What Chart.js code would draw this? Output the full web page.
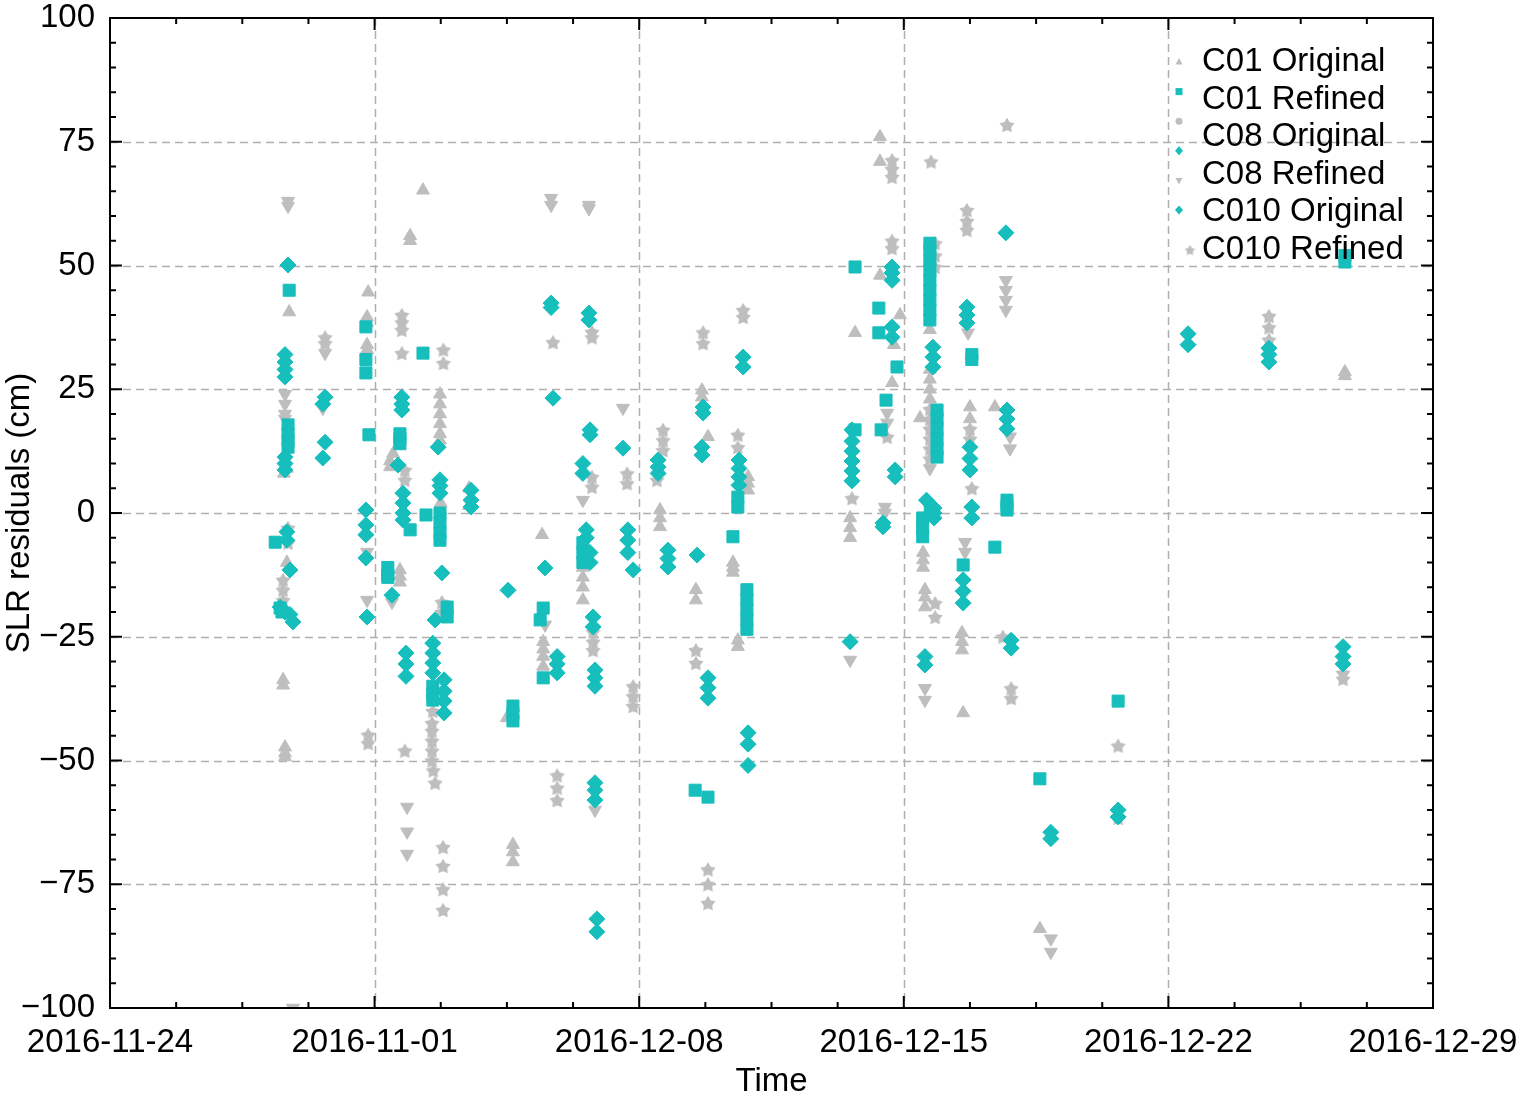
<!DOCTYPE html>
<html>
<head>
<meta charset="utf-8">
<title>SLR residuals</title>
<script src="https://cdn.jsdelivr.net/npm/chart.js@4.4.1/dist/chart.umd.min.js"></script>
<style>
  html, body { margin: 0; padding: 0; background: #fff; }
  #wrap { width: 1519px; height: 1103px; }
</style>
</head>
<body>
<div id="wrap"><canvas id="chart" width="1519" height="1103"></canvas></div>
<script>
// x = days counted from the first tick, y = residual in cm
const xTickLabels = ['2016-11-24', '2016-11-01', '2016-12-08', '2016-12-15', '2016-12-22', '2016-12-29'];
const legendLabels = ['C01 Original', 'C01 Refined', 'C08 Original', 'C08 Refined', 'C010 Original', 'C010 Refined'];

const c01Original = [
  [4.74, 40.6], [4.68, 9], [4.60, 8], [4.68, -10], [4.58, -33.7], [4.58, -34.8], [4.63, -47.3], [4.63, -48.5], [4.63, -49.3],
  [6.83, 44.6], [6.80, 39.6], [6.80, 38.4], [6.80, 34], [6.80, 33],
  [7.49, 12], [7.41, 10.5], [7.41, 9.3], [7.67, -11.5], [7.67, -12.8], [7.67, -14],
  [8.28, 65.2], [7.94, 55], [7.94, 56],
  [8.73, 24], [8.73, 22], [8.73, 20], [8.73, 18], [8.73, 16], [8.73, 14.7], [8.75, 2], [8.75, 0.5],
  [9.50, 5], [9.50, 1.5],
  [10.50, -41.4], [10.66, -67], [10.66, -68.5], [10.66, -70.5],
  [11.43, -4.4], [11.46, -26], [11.46, -27.5], [11.46, -29], [11.46, -31],
  [12.51, -11], [12.51, -13], [12.51, -15], [12.51, -17.6],
  [14.55, 0.6], [14.55, -1], [14.55, -2.8], [15.66, 24.8], [15.66, 23.4], [15.82, 15.4], [15.50, -15.5], [15.50, -17.6],
  [16.88, 7.3], [16.88, 6], [16.88, 4.6], [16.48, -10], [16.48, -11], [16.48, -12], [16.61, -25.7], [16.61, -27],
  [20.37, 76], [20.37, 71], [19.71, 36.4], [20.37, 48], [20.90, 40], [20.74, 34], [20.69, 26.3], [19.58, -1], [19.58, -3], [19.58, -5],
  [21.69, 37], [21.43, 19.2], [21.69, 29], [21.69, 27], [21.69, 25], [21.69, 23], [21.51, -8], [21.51, -9.5], [21.51, -11],
  [21.56, -15.5], [21.56, -17], [21.56, -19],
  [22.54, -24.2], [22.54, -26], [22.54, -27.7], [22.57, -40.4], [23.41, 21.4], [22.75, 21.4], [22.75, 19],
  [24.60, -84], [32.67, 27.7], [32.67, 28.5]
];

const c01Refined = [
  [4.74, 45], [4.71, 17.8], [4.71, 16], [4.71, 14.7], [4.71, 13.3], [4.37, -5.9], [4.50, -19.2], [4.55, -20],
  [6.77, 37.6], [6.77, 31], [6.77, 28.3], [6.85, 15.8],
  [7.35, -11], [7.35, -12.5], [7.35, -13],
  [7.67, 16], [7.67, 15], [7.67, 14], [8.28, 32.3], [7.94, -3.4], [8.36, -0.4],
  [8.73, 0], [8.73, -2], [8.73, -4], [8.73, -5.5], [8.92, -19], [8.92, -21], [8.54, -35], [8.54, -36.5], [8.54, -37.8],
  [10.66, -39], [10.66, -40.5], [10.66, -42],
  [11.46, -19.2], [11.38, -21.6], [11.46, -33.3],
  [12.51, -6], [12.51, -8], [12.51, -10],
  [16.61, 3.2], [16.61, 1.2], [16.48, -4.8], [16.85, -15.5], [16.85, -17.5], [16.85, -19.5], [16.85, -21.5], [16.85, -23.5],
  [15.48, -56], [15.82, -57.4],
  [19.71, 16.8], [19.71, 49.7], [20.34, 41.4], [20.34, 36.4], [20.82, 29.5], [20.53, 22.8], [20.40, 16.8],
  [21.69, 54.5], [21.69, 53], [21.69, 51], [21.69, 49], [21.69, 47], [21.69, 45], [21.69, 43], [21.69, 41], [21.69, 39],
  [21.88, 20.8], [21.88, 19], [21.88, 17], [21.88, 15], [21.88, 13], [21.88, 11.3],
  [21.50, -1], [21.50, -3], [21.50, -4.8], [21.70, 0.5],
  [22.80, 31], [22.80, 32], [23.41, -6.9], [22.57, -10.5], [23.73, 2.6], [23.73, 1.5], [23.73, 0.6],
  [26.67, -38], [24.60, -53.7], [32.67, 50.7], [32.67, 52]
];

const c08Original = [
  [4.71, 50.1], [4.63, 32], [4.63, 30.5], [4.63, 29], [4.63, 27.5], [4.63, 11.3], [4.63, 10], [4.63, 8.7],
  [4.68, -3.8], [4.68, -5.5], [4.76, -11.5], [4.50, -19], [4.63, -20], [4.76, -20.5], [4.84, -22],
  [5.69, 23.4], [5.63, 22], [5.69, 14.3], [5.63, 11.1],
  [6.77, 0.6], [6.77, -2.4], [6.77, -4.4], [6.77, -9.1], [6.80, -21],
  [7.46, -16.6],
  [7.72, 23.4], [7.72, 22], [7.72, 20.8], [7.62, 9.7], [7.75, 4], [7.75, 2], [7.75, 0], [7.75, -1.4],
  [7.83, -28.3], [7.83, -30.5], [7.83, -33],
  [8.68, 13.3], [8.73, 6.7], [8.73, 5.5], [8.73, 4], [8.78, -12.1], [8.60, -21.6],
  [8.54, -26.3], [8.54, -28.3], [8.54, -30.3], [8.54, -32.3], [8.84, -33.7], [8.84, -36], [8.84, -38], [8.84, -40.4],
  [9.55, 4.6], [9.55, 2.6], [9.55, 1.2],
  [10.53, -15.6],
  [11.67, 42.4], [11.67, 41.5], [11.72, 23.2], [11.51, -11.1], [11.83, -29], [11.83, -30.5], [11.83, -32.3],
  [12.67, 40.4], [12.67, 39], [12.70, 16.8], [12.70, 15.8], [12.51, 10], [12.51, 8],
  [12.60, -3.4], [12.60, -5], [12.70, -8], [12.70, -10], [12.78, -21], [12.78, -23],
  [12.83, -31.7], [12.83, -33.3], [12.83, -35], [12.83, -54.5], [12.83, -56], [12.83, -58], [12.88, -82], [12.88, -84.6]
];

const c010Original = [
  [13.57, 13.1], [13.70, -3.4], [13.70, -5.5], [13.70, -8], [13.84, -11.5],
  [14.50, 10.7], [14.50, 9.3], [14.50, 8], [14.76, -7.5], [14.76, -9.2], [14.76, -10.9],
  [15.69, 21.4], [15.69, 20.2], [15.66, 13.3], [15.66, 11.7], [15.53, -8.5], [15.82, -33.3], [15.82, -35.3], [15.82, -37.4],
  [16.75, 31.5], [16.75, 29.5], [16.64, 10.7], [16.64, 9], [16.64, 7.3], [16.64, 5.6], [16.88, -44.4], [16.88, -46.7], [16.88, -51],
  [19.63, 16.8], [19.63, 14.5], [19.63, 12.5], [19.63, 10.5], [19.63, 8.5], [19.63, 6.5],
  [20.69, 49.7], [20.69, 48.5], [20.69, 47], [20.69, 37.6], [20.69, 35.5], [20.77, 8.7], [20.77, 7.3],
  [20.45, -2], [20.45, -2.8], [19.58, -26],
  [21.77, 33.5], [21.77, 31.5], [21.77, 29.5], [21.56, -29], [21.56, -30.7], [21.60, 2.6], [21.80, 1], [21.80, -1], [21.80, 0],
  [22.67, 41.6], [22.67, 40], [22.67, 38.4], [22.75, 13.3], [22.75, 11], [22.75, 8.7], [22.80, 1.2], [22.80, -1],
  [22.57, -13.5], [22.57, -15.8], [22.57, -18.2], [23.84, -25.7], [23.84, -27.3], [23.70, 56.6], [23.73, 20.8], [23.73, 19], [23.73, 17],
  [24.89, -64.5], [24.89, -65.8], [26.67, -60], [26.67, -61.4], [28.52, 36.2], [28.52, 34],
  [30.66, 33.3], [30.66, 32], [30.66, 30.5], [32.62, -27], [32.62, -29], [32.62, -30.5]
];

const c08Refined = [
  [4.71, 63], [4.71, 62], [4.63, 24], [4.63, 22], [4.63, 20], [4.63, 19], [4.84, -100],
  [5.69, 32.3], [5.63, 21.2],
  [6.80, -7.9], [6.80, -17.6],
  [7.46, -18],
  [7.86, -59.4], [7.86, -64.4], [7.86, -68.9],
  [11.67, 63.6], [11.67, 62.2], [11.51, -22.6],
  [12.67, 62.2], [12.67, 61.5], [12.51, 2.6], [12.83, -60], [13.57, 21.2],
  [20.56, 20.2], [20.56, 18.2], [20.50, 1.2], [20.50, 0], [19.58, -29.7],
  [21.69, 9], [21.56, -35.4], [21.56, -37.8],
  [22.70, 36.4], [22.62, -5.9], [22.62, -7.9], [23.70, 47], [23.70, 45], [23.70, 43], [23.70, 41], [23.81, 15.4], [23.81, 13],
  [24.89, -86], [24.89, -88.7]
];

const c010Refined = [
  [4.71, -3], [4.71, -6], [4.58, -13.5], [4.58, -15.5], [4.58, -17.6],
  [5.69, 35.5], [5.69, 34.3],
  [6.83, -44.8], [6.83, -46.5],
  [7.72, 40], [7.72, 38.5], [7.72, 37], [7.72, 32.3], [7.80, 8.7], [7.80, 6.7], [7.80, -48], [8.82, 33], [8.82, 30.3],
  [8.78, -18], [8.78, -20], [8.54, -37], [8.54, -40],
  [8.52, -42.4], [8.52, -44], [8.52, -46], [8.52, -48], [8.52, -50], [8.55, -52], [8.60, -54.5],
  [8.81, -67.5], [8.81, -71.3], [8.81, -76], [8.81, -80.2],
  [11.72, 34.5], [11.83, -53], [11.83, -55.5], [11.83, -58],
  [12.75, 36.6], [12.75, 35.5], [12.75, 7.3], [12.75, 5.3], [12.78, -24], [12.78, -26], [12.78, -27.7],
  [13.68, 8], [13.68, 6], [13.84, -35], [13.84, -37], [13.84, -39],
  [15.69, 36.5], [15.69, 34.3], [14.63, 16.8], [14.63, 14.7], [14.63, 12.7], [14.47, 6.7], [15.50, -27.7], [15.50, -30.3],
  [16.75, 41], [16.75, 39.6], [16.61, 15.8], [16.61, 13.3], [15.82, -72], [15.82, -75], [15.82, -78.8],
  [20.69, 71.3], [20.69, 69.5], [20.69, 67.9], [20.69, 55], [20.69, 53.5], [19.63, 3], [20.56, 15.4],
  [21.72, 71], [21.83, 54.5], [21.83, 52], [21.83, 49.7],
  [21.69, 21], [21.69, 19], [21.69, 17], [21.69, 15], [21.69, 13], [21.69, 11], [21.83, -18.2], [21.83, -21],
  [22.67, 61.2], [22.67, 59], [22.67, 57.2], [22.80, 5], [22.75, 17], [22.75, 15], [23.62, -25], [23.84, -35.4], [23.84, -37.4], [23.73, 78.4],
  [26.67, -47], [26.67, -61.6], [30.66, 39.8], [30.66, 37.5], [30.66, 35], [32.62, -32.3], [32.62, -33.5]
];

const GRAY = 'rgb(190,190,190)';
const TEAL = 'rgb(22,190,188)';
const FONT = '"Liberation Sans", Arial, sans-serif';

Chart.defaults.font.family = FONT;
Chart.defaults.color = '#000';

function makeStar(size, color) {
  const c = document.createElement('canvas');
  c.width = size;
  c.height = size;
  const g = c.getContext('2d');
  const r1 = size / 2, r2 = size * 0.28;
  g.fillStyle = color;
  g.beginPath();
  for (let i = 0; i < 10; i++) {
    const r = i % 2 ? r2 : r1;
    const a = -Math.PI / 2 + i * Math.PI / 5;
    g.lineTo(size / 2 + r * Math.cos(a), size / 2 + r * Math.sin(a) + size * 0.05);
  }
  g.closePath();
  g.fill();
  return c;
}

const starImg = makeStar(16, GRAY);
const starSmall = makeStar(11, GRAY);

const toXY = (arr) => arr.map((p) => ({ x: p[0], y: p[1] }));

function series(label, data, style) {
  return Object.assign({
    label: label,
    data: toXY(data),
    showLine: false,
    pointBorderWidth: 1,
  }, style);
}

const datasets = [
  series('C01 Original', c01Original, { pointStyle: 'triangle', pointRadius: 7.5, backgroundColor: GRAY, borderColor: GRAY, order: 2 }),
  series('C08 Refined', c08Refined, { pointStyle: 'triangle', rotation: 180, pointRadius: 7.5, backgroundColor: GRAY, borderColor: GRAY, order: 2 }),
  series('C010 Refined', c010Refined, { pointStyle: starImg, pointRadius: 7, backgroundColor: GRAY, borderColor: GRAY, order: 2 }),
  series('C01 Refined', c01Refined, { pointStyle: 'rect', pointRadius: 8.5, backgroundColor: TEAL, borderColor: TEAL, order: 1 }),
  series('C08 Original', c08Original, { pointStyle: 'rectRot', pointRadius: 8, backgroundColor: TEAL, borderColor: TEAL, order: 0 }),
  series('C010 Original', c010Original, { pointStyle: 'rectRot', pointRadius: 8, backgroundColor: TEAL, borderColor: TEAL, order: 0 }),
];

// markers as they sit in the original legend (one more marker than labels)
const legendMarkers = [
  { shape: 'triangle', color: GRAY },
  { shape: 'square', color: TEAL },
  { shape: 'circle', color: GRAY },
  { shape: 'diamond', color: TEAL },
  { shape: 'triangleDown', color: GRAY },
  { shape: 'diamond', color: TEAL },
  { shape: 'star', color: GRAY },
];

function drawMarker(ctx, shape, x, y, color) {
  ctx.fillStyle = color;
  ctx.beginPath();
  if (shape === 'triangle') {
    ctx.moveTo(x, y - 4); ctx.lineTo(x + 3.5, y + 2.5); ctx.lineTo(x - 3.5, y + 2.5);
  } else if (shape === 'triangleDown') {
    ctx.moveTo(x, y + 4); ctx.lineTo(x + 3.5, y - 2.5); ctx.lineTo(x - 3.5, y - 2.5);
  } else if (shape === 'square') {
    ctx.rect(x - 3.5, y - 3.5, 7, 7);
  } else if (shape === 'diamond') {
    ctx.moveTo(x, y - 4.5); ctx.lineTo(x + 4, y); ctx.lineTo(x, y + 4.5); ctx.lineTo(x - 4, y);
  } else if (shape === 'circle') {
    ctx.arc(x, y, 3.5, 0, Math.PI * 2);
  } else if (shape === 'star') {
    ctx.drawImage(starSmall, x - 5.5, y - 5.5);
    return;
  }
  ctx.closePath();
  ctx.fill();
}

const framePlugin = {
  id: 'frame',
  beforeDatasetsDraw(chart) {
    const { ctx, chartArea: a, scales: { x, y } } = chart;
    ctx.save();
    ctx.strokeStyle = 'rgb(175,175,175)';
    ctx.lineWidth = 1.5;
    ctx.setLineDash([8, 5]);
    x.ticks.forEach((t) => {
      if (t.value <= x.min || t.value >= x.max) return;
      const px = Math.round(x.getPixelForValue(t.value)) + 0.5;
      ctx.beginPath(); ctx.moveTo(px, a.top); ctx.lineTo(px, a.bottom); ctx.stroke();
    });
    y.ticks.forEach((t) => {
      if (t.value <= y.min || t.value >= y.max) return;
      const py = Math.round(y.getPixelForValue(t.value)) + 0.5;
      ctx.beginPath(); ctx.moveTo(a.left, py); ctx.lineTo(a.right, py); ctx.stroke();
    });
    ctx.restore();
  },
  afterDatasetsDraw(chart) {
    const { ctx, chartArea: a, scales: { x, y } } = chart;
    ctx.save();
    ctx.strokeStyle = '#000';
    ctx.lineWidth = 2;
    ctx.strokeRect(a.left, a.top, a.right - a.left, a.bottom - a.top);
    for (let v = x.min; v <= x.max + 1e-6; v += 1.75) {
      const len = Math.abs(v / 7 - Math.round(v / 7)) < 1e-6 ? 12 : 6;
      const px = x.getPixelForValue(v);
      ctx.beginPath();
      ctx.moveTo(px, a.bottom); ctx.lineTo(px, a.bottom - len);
      ctx.moveTo(px, a.top); ctx.lineTo(px, a.top + len);
      ctx.stroke();
    }
    for (let v = y.min; v <= y.max + 1e-6; v += 5) {
      const len = v % 25 === 0 ? 12 : 6;
      const py = y.getPixelForValue(v);
      ctx.beginPath();
      ctx.moveTo(a.left, py); ctx.lineTo(a.left + len, py);
      ctx.moveTo(a.right, py); ctx.lineTo(a.right - len, py);
      ctx.stroke();
    }
    ctx.restore();
  },
  afterDraw(chart) {
    const { ctx, chartArea: a } = chart;
    const textX = a.right - 231;
    const rowTop = a.top + 44;
    const rowStep = 37.6;
    ctx.save();
    ctx.font = '33px ' + FONT;
    ctx.fillStyle = '#000';
    ctx.textAlign = 'left';
    ctx.textBaseline = 'middle';
    legendLabels.forEach((t, i) => ctx.fillText(t, textX, rowTop + i * rowStep));
    legendMarkers.forEach((m, i) => {
      const my = i < 6 ? a.top + 44 + i * 29.6 : rowTop + 5 * rowStep;
      const mx = m.shape === 'star' ? a.right - 243 : a.right - 254;
      drawMarker(ctx, m.shape, mx, my, m.color);
    });
    ctx.restore();
  }
};

new Chart(document.getElementById('chart'), {
  type: 'scatter',
  data: { datasets: datasets },
  options: {
    responsive: false,
    animation: false,
    layout: { padding: { top: 18, right: 86, bottom: 1, left: 0 } },
    plugins: {
      legend: { display: false },
      tooltip: { enabled: false },
    },
    scales: {
      x: {
        type: 'linear',
        min: 0,
        max: 35,
        afterFit: (s) => { s.height = 94; s.paddingLeft = 0; s.paddingRight = 0; },
        grid: { display: false, drawTicks: false },
        border: { display: false },
        ticks: {
          stepSize: 7,
          autoSkip: false,
          maxRotation: 0,
          padding: 18,
          color: '#000',
          font: { size: 33, lineHeight: 1 },
          callback: (v, i) => xTickLabels[i],
        },
        title: { display: true, text: 'Time', color: '#000', font: { size: 33 }, padding: 0 },
      },
      y: {
        min: -100,
        max: 100,
        afterFit: (s) => { s.width = 110; s.paddingTop = 0; s.paddingBottom = 0; },
        grid: { display: false, drawTicks: false },
        border: { display: false },
        ticks: {
          stepSize: 25,
          padding: 15,
          color: '#000',
          font: { size: 33, lineHeight: 1 },
          callback: (v) => (v < 0 ? '\u2212' + Math.abs(v) : String(v)),
        },
        title: { display: true, text: 'SLR residuals (cm)', color: '#000', font: { size: 33 }, padding: 0 },
      },
    },
  },
  plugins: [framePlugin],
});
</script>
</body>
</html>
